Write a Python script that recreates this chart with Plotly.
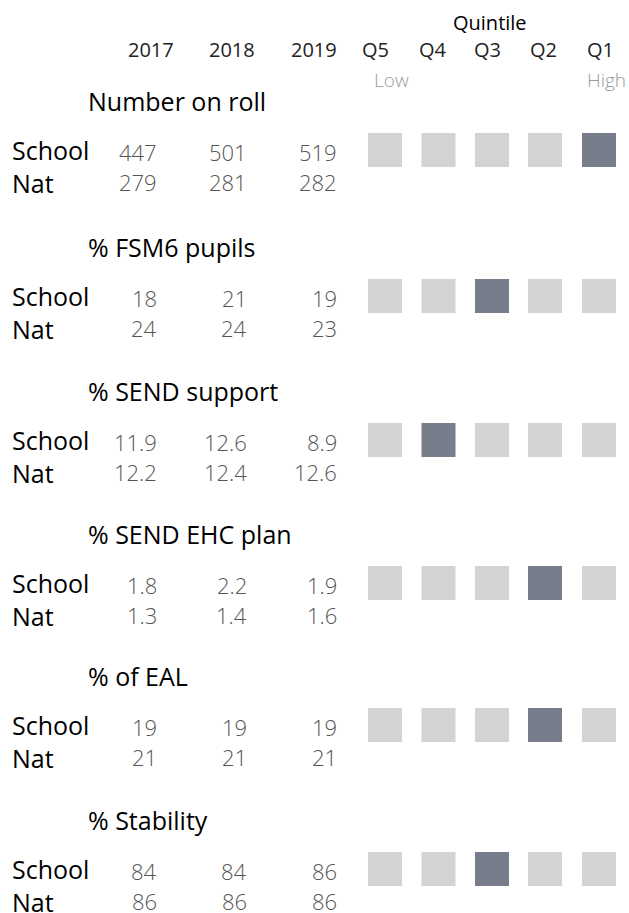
import plotly.graph_objects as go

# ---- data ----
measures = ["Number on roll", "% FSM6 pupils", "% SEND support",
            "% SEND EHC plan", "% of EAL", "% Stability"]
years = ["2017", "2018", "2019"]
quintiles = ["Q5", "Q4", "Q3", "Q2", "Q1"]
school_values = [[447, 501, 519], [18, 21, 19], [11.9, 12.6, 8.9],
                 [1.8, 2.2, 1.9], [19, 19, 19], [84, 84, 86]]
nat_values = [[279, 281, 282], [24, 24, 23], [12.2, 12.4, 12.6],
              [1.3, 1.4, 1.6], [21, 21, 21], [86, 86, 86]]
decimals = [0, 0, 1, 1, 0, 0]
school_quintile = ["Q1", "Q3", "Q4", "Q2", "Q2", "Q3"]

# ---- layout constants (pixel-space axes) ----
W, H = 629, 913
FONT = "Open Sans"
ROW_Y = [150, 296, 440, 583, 725, 869]
NAT_DY = 33
TITLE_DY = -49
YEAR_RIGHT = [158, 248, 338]
YEAR_HDR_RIGHT = [175, 256, 338]
Q_X = [385, 438.5, 492, 545, 599]
Q_LBL_X = [375, 432.5, 487.5, 543.5, 600]
LIGHT = "#d3d3d3"
DARK = "#777d8a"

fig = go.Figure()

# squares
sx, sy, sc = [], [], []
for i, q in enumerate(school_quintile):
    for j, qq in enumerate(quintiles):
        sx.append(Q_X[j])
        sy.append(ROW_Y[i])
        sc.append(DARK if qq == q else LIGHT)
fig.add_trace(go.Scatter(x=sx, y=sy, mode="markers",
                         marker=dict(symbol="square", size=34, color=sc,
                                     line=dict(width=0)),
                         hoverinfo="skip", showlegend=False))

ann = []
def A(x, y, t, size, color="#000000", anchor="left", weight=None):
    f = dict(family=FONT, size=size, color=color)
    if weight:
        f["weight"] = weight
    ann.append(dict(x=x, y=y, xref="x", yref="y", text=t, showarrow=False,
                    xanchor=anchor, yanchor="middle", font=f, borderpad=0))

# headers
A(490, 22, "Quintile", 20, anchor="center")
for k, yv in enumerate(years):
    A(YEAR_HDR_RIGHT[k], 49, yv, 20, color="#222222", anchor="right")
for j, q in enumerate(quintiles):
    A(Q_LBL_X[j], 49, q, 20, color="#222222", anchor="center")
A(391, 80, "Low", 19, color="#999999", anchor="center", weight=300)
A(627, 80, "High", 19, color="#999999", anchor="right", weight=300)

for i, m in enumerate(measures):
    y0 = ROW_Y[i]
    A(87, y0 + TITLE_DY, m, 25)
    A(11, y0, "School", 25)
    A(11, y0 + NAT_DY, "Nat", 25)
    fmt = "{:.%df}" % decimals[i]
    for k in range(3):
        A(YEAR_RIGHT[k], y0 + 2, fmt.format(school_values[i][k]), 22,
          color="#555555", anchor="right", weight=300)
        A(YEAR_RIGHT[k], y0 + NAT_DY - 1, fmt.format(nat_values[i][k]), 22,
          color="#555555", anchor="right", weight=300)

fig.update_layout(
    width=W, height=H, margin=dict(l=0, r=0, t=0, b=0),
    paper_bgcolor="white", plot_bgcolor="white",
    xaxis=dict(range=[0, W], visible=False, fixedrange=True),
    yaxis=dict(range=[H, 0], visible=False, fixedrange=True),
    annotations=ann, showlegend=False, hovermode=False,
)
fig.write_html("out.html",
               config={"displayModeBar": False, "staticPlot": True},
               post_script="document.body.style.margin='0';"
                           "document.body.style.overflow='hidden';")
